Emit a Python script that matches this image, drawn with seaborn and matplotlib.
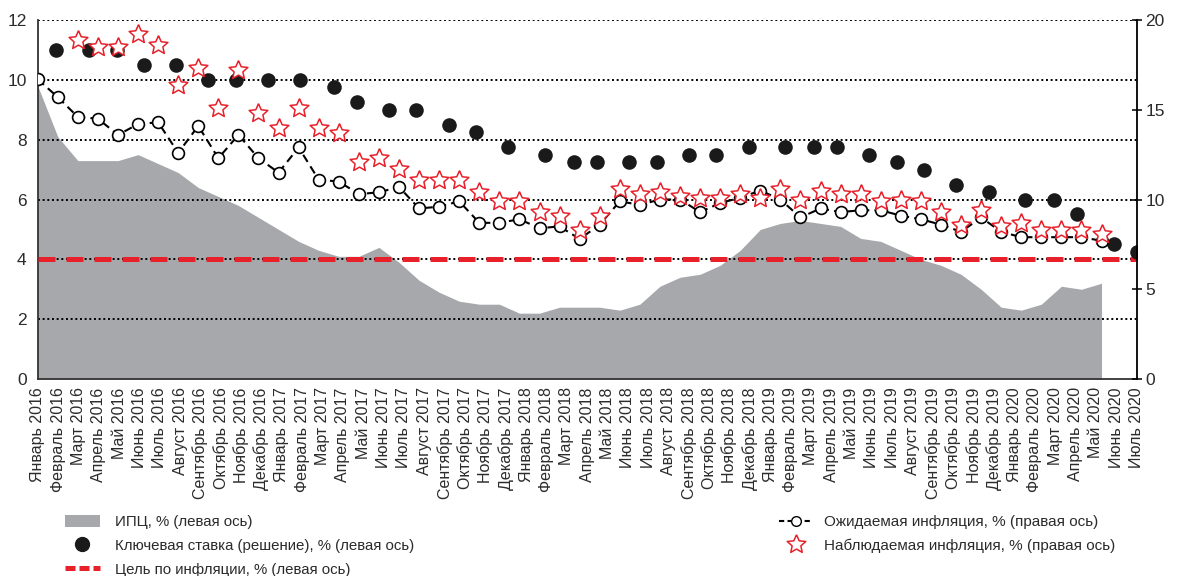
import numpy as np
import pandas as pd
import matplotlib
matplotlib.use("Agg")
import matplotlib.pyplot as plt
import seaborn as sns
from matplotlib.lines import Line2D
from matplotlib.patches import Patch
from matplotlib.markers import MarkerStyle

# --- data ---
months_ru = ["Январь", "Февраль", "Март", "Апрель", "Май", "Июнь", "Июль",
             "Август", "Сентябрь", "Октябрь", "Ноябрь", "Декабрь"]
month_dates = pd.date_range("2016-01-01", "2020-07-01", freq="MS")
tick_labels = [f"{months_ru[d.month - 1]} {d.year}" for d in month_dates]

# ИПЦ, % (left axis), Jan 2016 .. Jun 2020
cpi = [9.8, 8.1, 7.3, 7.3, 7.3, 7.5, 7.2, 6.9, 6.4, 6.1, 5.8, 5.4,
       5.0, 4.6, 4.3, 4.1, 4.1, 4.4, 3.9, 3.3, 2.9, 2.6, 2.5, 2.5,
       2.2, 2.2, 2.4, 2.4, 2.4, 2.3, 2.5, 3.1, 3.4, 3.5, 3.8, 4.3,
       5.0, 5.2, 5.3, 5.2, 5.1, 4.7, 4.6, 4.3, 4.0, 3.8, 3.5, 3.0,
       2.4, 2.3, 2.5, 3.1, 3.0, 3.2]

# Ожидаемая инфляция, % (right axis), Jan 2016 .. Jun 2020
expected = [16.7, 15.7, 14.6, 14.5, 13.6, 14.2, 14.3, 12.6, 14.1, 12.3, 13.6, 12.3,
            11.5, 12.9, 11.1, 11.0, 10.3, 10.4, 10.7, 9.5, 9.6, 9.9, 8.7, 8.7,
            8.9, 8.4, 8.5, 7.8, 8.6, 9.9, 9.7, 10.0, 10.0, 9.3, 9.8, 10.1,
            10.5, 10.0, 9.0, 9.5, 9.3, 9.4, 9.4, 9.1, 8.9, 8.6, 8.2, 9.0,
            8.2, 7.9, 7.9, 7.9, 7.9, 7.7]

# Наблюдаемая инфляция, % (right axis), Mar 2016 .. Jun 2020
observed = [18.9, 18.5, 18.5, 19.2, 18.6, 16.4, 17.3, 15.1, 17.2, 14.8,
            14.0, 15.1, 14.0, 13.7, 12.1, 12.3, 11.7, 11.1, 11.1, 11.1, 10.4, 9.9,
            9.9, 9.3, 9.1, 8.3, 9.1, 10.6, 10.3, 10.4, 10.2, 10.1, 10.1, 10.3,
            10.1, 10.6, 10.0, 10.5, 10.3, 10.3, 9.9, 10.0, 9.9, 9.3, 8.6, 9.4,
            8.5, 8.7, 8.3, 8.3, 8.3, 8.1]

# Ключевая ставка (решение), % (left axis)
rate_dates = ["2016-01-29", "2016-03-18", "2016-04-29", "2016-06-10", "2016-07-29",
              "2016-09-16", "2016-10-28", "2016-12-16", "2017-02-03", "2017-03-24",
              "2017-04-28", "2017-06-16", "2017-07-28", "2017-09-15", "2017-10-27",
              "2017-12-15", "2018-02-09", "2018-03-23", "2018-04-27", "2018-06-15",
              "2018-07-27", "2018-09-14", "2018-10-26", "2018-12-14", "2019-02-08",
              "2019-03-22", "2019-04-26", "2019-06-14", "2019-07-26", "2019-09-06",
              "2019-10-25", "2019-12-13", "2020-02-07", "2020-03-20", "2020-04-24",
              "2020-06-19", "2020-07-24"]
rate_values = [11.0, 11.0, 11.0, 10.5, 10.5, 10.0, 10.0, 10.0, 10.0, 9.75,
               9.25, 9.0, 9.0, 8.5, 8.25, 7.75, 7.5, 7.25, 7.25, 7.25,
               7.25, 7.5, 7.5, 7.75, 7.75, 7.75, 7.75, 7.5, 7.25, 7.0,
               6.5, 6.25, 6.0, 6.0, 5.5, 4.5, 4.25]

target = 4.0


def month_pos(d):
    d = pd.Timestamp(d)
    return (d.year - 2016) * 12 + d.month - 1 + (d.day - 1) / d.days_in_month


cpi_x = [month_pos(d) for d in month_dates[:len(cpi)]]
exp_x = [month_pos(d) for d in month_dates[:len(expected)]]
obs_x = [month_pos(d) for d in month_dates[2:2 + len(observed)]]
rate_x = [month_pos(d) for d in rate_dates]

# --- style ---
sns.set_style("white")
plt.rcParams["font.family"] = ["Liberation Sans", "DejaVu Sans"]
text_col = "#2b2b2b"
grey = "#a7a8ab"
red = "#e8202a"

ang = np.pi / 2 + np.arange(11) * np.pi / 5
rad = np.where(np.arange(11) % 2 == 0, 1.0, 0.47)
star = MarkerStyle(list(zip(rad * np.cos(ang), rad * np.sin(ang))))

fig = plt.figure(figsize=(11.81, 5.76), dpi=100)
ax = fig.add_axes([37.7 / 1181, 1 - 379 / 576, (1136.5 - 37.7) / 1181, 359 / 576])
ax2 = ax.twinx()

# left axis
ax.fill_between(cpi_x, cpi, color=grey, lw=0, zorder=1)
for yv in range(2, 13, 2):
    ax.axhline(yv, color="black", lw=1.4, linestyle=(0, (1, 1.4)), zorder=2)
ax.axhline(target, color=red, lw=3.6, linestyle=(0, (3.4, 2.2)), zorder=3)
sns.scatterplot(x=rate_x, y=rate_values, ax=ax, color="#1a1a1a", edgecolor="#1a1a1a",
                s=110, linewidth=0, zorder=4, legend=False)

# right axis
sns.lineplot(x=exp_x, y=expected, ax=ax2, color="black", lw=1.5,
             linestyle=(0, (4, 2.5)), marker="o", markersize=8.5,
             markerfacecolor="white", markeredgecolor="black",
             markeredgewidth=1.2, errorbar=None, zorder=3)
sns.scatterplot(x=obs_x, y=observed, ax=ax2, marker=star, s=200, color="white",
                edgecolor=red, linewidth=1.1, zorder=4, legend=False)

xmax = rate_x[-1]
ax.set_xlim(0, xmax)
ax.set_ylim(0, 12)
ax2.set_ylim(0, 20)
ax.set_yticks(range(0, 13, 2))
ax2.set_yticks(range(0, 21, 5))
ax.set_xticks(np.linspace(0, xmax, len(tick_labels)))
ax.set_xticklabels(tick_labels, rotation=90, fontsize=11.5, color=text_col)
ax.tick_params(axis="x", direction="out", length=4, width=1, color="#333333", pad=2)
ax.tick_params(axis="y", length=0, pad=8, labelsize=12.5, labelcolor=text_col)
ax2.tick_params(axis="y", direction="inout", length=7, width=1.1, color="black",
                pad=3, labelsize=12.5, labelcolor=text_col)
ax.set(xlabel=None, ylabel=None)
ax2.set(xlabel=None, ylabel=None)

for s in ["top", "right"]:
    ax.spines[s].set_visible(False)
for s in ["top", "left", "bottom"]:
    ax2.spines[s].set_visible(False)
ax.spines["left"].set_color("#333333")
ax.spines["left"].set_linewidth(1.3)
ax.spines["bottom"].set_color("#333333")
ax.spines["bottom"].set_linewidth(1.3)
ax2.spines["right"].set_color("black")
ax2.spines["right"].set_linewidth(1.3)

# legends
left_handles = [
    Patch(facecolor=grey, edgecolor="none"),
    Line2D([], [], marker="o", ls="none", color="#1a1a1a", markersize=10),
    Line2D([], [], color=red, lw=3.6, linestyle=(0, (2.0, 0.8))),
]
left_labels = ["ИПЦ, % (левая ось)",
               "Ключевая ставка (решение), % (левая ось)",
               "Цель по инфляции, % (левая ось)"]
fig.legend(left_handles, left_labels, loc="upper left",
           bbox_to_anchor=(65 / 1181, 1 - 515 / 576), frameon=False,
           fontsize=10.8, handlelength=2.3, handleheight=0.9, handletextpad=1.05,
           labelspacing=0.62, borderpad=0, borderaxespad=0, labelcolor=text_col)

right_handles = [
    Line2D([], [], color="black", lw=1.5, linestyle=(0, (2.5, 1.6)), marker="o",
           markersize=7, markerfacecolor="white", markeredgecolor="black"),
    Line2D([], [], ls="none", marker=star, markersize=14, markerfacecolor="white",
           markeredgecolor=red, markeredgewidth=1.1),
]
right_labels = ["Ожидаемая инфляция, % (правая ось)",
                "Наблюдаемая инфляция, % (правая ось)"]
fig.legend(right_handles, right_labels, loc="upper left",
           bbox_to_anchor=(779 / 1181, 1 - 515 / 576), frameon=False,
           fontsize=11.0, handlelength=2.2, handletextpad=0.72,
           labelspacing=0.6, borderpad=0, borderaxespad=0, labelcolor=text_col)

plt.savefig("out.png", dpi=100)
